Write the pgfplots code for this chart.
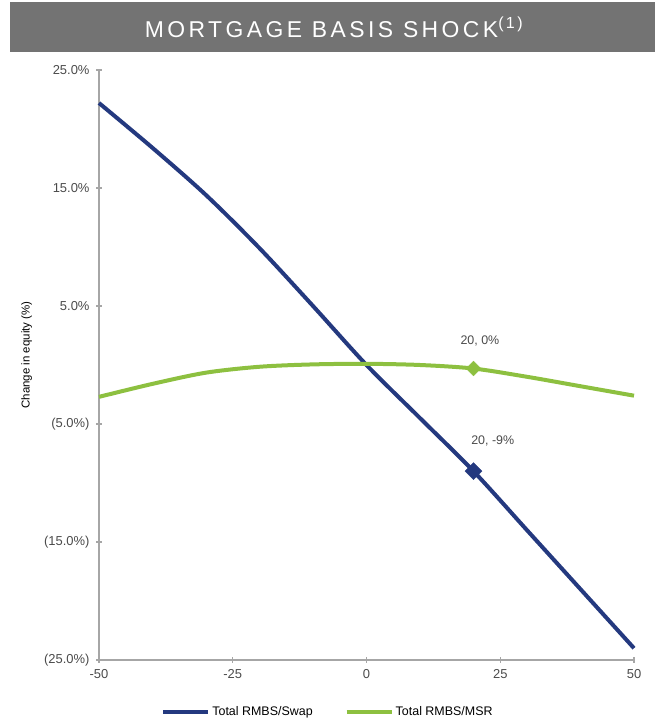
\documentclass[border=0pt]{standalone}
\usepackage{fontspec}
\setmainfont{Liberation Sans}
\usepackage{pgfplots}
\pgfplotsset{compat=1.18}
\definecolor{navy}{HTML}{24397F}
\definecolor{lgreen}{HTML}{8DC040}
\definecolor{titlegray}{HTML}{737373}
\definecolor{axgray}{HTML}{A6A6A6}
\definecolor{txt}{HTML}{4A4A4A}
\begin{document}
\begin{tikzpicture}[x=1bp,y=1bp]
\useasboundingbox (0,0) rectangle (660,721);
\fill[titlegray] (10,669) rectangle (655,719);
\node[white, font=\fontsize{23}{25}\selectfont\addfontfeatures{LetterSpace=15}] at (334,694) {MORTGAGE BASIS SHOCK\textsuperscript{(1)}};
\begin{axis}[
  at={(99bp,61bp)}, anchor=south west,
  scale only axis, width=535bp, height=590bp,
  xmin=-50, xmax=50, ymin=-25, ymax=25,
  axis lines*=left,
  axis line style={axgray, line width=1.5pt},
  tick style={axgray, line width=1.2pt},
  tick align=center, major tick length=6bp,
  xtick={-50,-25,0,25,50}, xticklabels={-50,-25,0,25,50},
  ytick={-25,-15,-5,5,15,25},
  yticklabels={(25.0\%),(15.0\%),(5.0\%),5.0\%,15.0\%,25.0\%},
  ticklabel style={font=\fontsize{13}{15}\selectfont, text=txt},
  yticklabel style={xshift=-3bp},
  xticklabel style={yshift=-3bp},
  ylabel={Change in equity (\%)},
  ylabel style={font=\fontsize{11.5}{13}\selectfont, text=black, at={(axis description cs:-0.135,0.517)}, anchor=center},
  legend style={at={(0.428,-0.088)}, anchor=center, draw=none, fill=none, legend columns=2,
    font=\fontsize{12.5}{14}\selectfont, text=black,
    /tikz/every even column/.append style={column sep=30bp}},
  legend image code/.code={\draw[#1, line width=4bp] (0bp,0bp) -- (45bp,0bp);},
  clip=false,
]
\addplot[navy, line width=4bp, smooth] coordinates {
(-50,22.2) (-40,18.4) (-30,14.4) (-20,9.9) (-10,5.0) (0,0.0) (10,-4.5) (20,-9.0) (30,-14.0) (40,-19.0) (50,-24.0)};
\addlegendentry{Total RMBS/Swap}
\addplot[lgreen, line width=4bp, smooth] coordinates {
(-50,-2.7) (-40,-1.6) (-30,-0.65) (-20,-0.15) (-10,0.05) (0,0.1) (10,0.0) (20,-0.3) (30,-1.0) (40,-1.8) (50,-2.6)};
\addlegendentry{Total RMBS/MSR}
\addplot[navy, only marks, mark=square*, mark options={rotate=45}, mark size=6bp, forget plot] coordinates {(20,-9.0)};
\addplot[lgreen, only marks, mark=square*, mark options={rotate=45}, mark size=5.2bp, forget plot] coordinates {(20,-0.3)};
\node[font=\fontsize{12.5}{14}\selectfont, text=txt] at (axis cs:21.2,2.0) {20, 0\%};
\node[font=\fontsize{12.5}{14}\selectfont, text=txt] at (axis cs:23.6,-6.45) {20, -9\%};
\end{axis}
\end{tikzpicture}
\end{document}
